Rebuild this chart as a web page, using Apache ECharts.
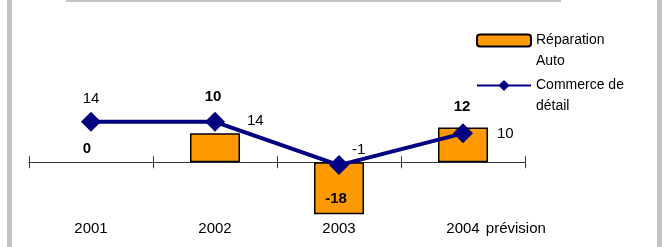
<!DOCTYPE html>
<html>
<head>
<meta charset="utf-8">
<script src="https://cdn.jsdelivr.net/npm/echarts@6/dist/echarts.min.js"></script>
<style>
  html, body { margin: 0; padding: 0; background: #fff; }
  #chart { width: 666px; height: 247px; }
</style>
</head>
<body>
<div id="chart"></div>
<script>
// données
var years = ['2001', '2002', '2003', '2004'];
var reparationAuto = [0, 10, -18, 12];
var commerceDetail = [14, 14, -1, 10];

var font = 'Liberation Sans, Arial, sans-serif';
var axisColor = '#333';
var yMin = -20, yMax = 25;

// étiquettes des barres (gras)
var barLabels = [
    {position: 'top', offset: [-4, -1]},
    {position: 'top', offset: [-2, -24]},
    {position: 'insideBottom', offset: [-3, -3]},
    {position: 'top', offset: [-1, -8]}
];
// étiquettes de la courbe
var lineLabels = [
    {position: 'top', distance: 5, offset: [0, 0]},
    {position: 'right', distance: 22, offset: [0, -1]},
    {position: 'right', distance: 3, offset: [0, -15]},
    {position: 'right', distance: 24, offset: [0, 1]}
];

var barData = reparationAuto.map(function (v, i) {
    return {value: v, label: barLabels[i], itemStyle: v === 0 ? {borderWidth: 0} : {}};
});
var lineData = commerceDetail.map(function (v, i) {
    return {value: v, label: lineLabels[i]};
});

var gridPos = {left: 29, right: 141, top: 90, bottom: 27, containLabel: false, outerBoundsMode: 'none'};

var chart = echarts.init(document.getElementById('chart'));
chart.setOption({
    animation: false,
    textStyle: {fontFamily: font},
    graphic: [
        {type: 'rect', shape: {x: 7, y: 0, width: 5, height: 247}, style: {fill: '#c4c4c4'}, silent: true},
        {type: 'rect', shape: {x: 657, y: 0, width: 5, height: 247}, style: {fill: '#c4c4c4'}, silent: true},
        {type: 'rect', shape: {x: 66, y: 0, width: 495, height: 2}, style: {fill: '#c4c4c4'}, silent: true}
    ],
    legend: [{
        data: ['Réparation Auto'],
        orient: 'vertical',
        left: 476, top: 9,
        padding: 0,
        itemWidth: 54, itemHeight: 12,
        formatter: function () { return ' \nRéparation\nAuto'; },
        textStyle: {fontFamily: font, fontSize: 14, color: '#000', lineHeight: 21}
    }, {
        data: ['Commerce de détail'],
        orient: 'vertical',
        left: 476, top: 54,
        padding: 0,
        itemWidth: 54, itemHeight: 14,
        formatter: function () { return ' \nCommerce de\ndétail'; },
        textStyle: {fontFamily: font, fontSize: 14, color: '#000', lineHeight: 21}
    }],
    grid: [gridPos, gridPos],
    xAxis: [{
        type: 'category',
        gridIndex: 0,
        data: years,
        position: 'bottom',
        axisLine: {onZero: true, lineStyle: {color: axisColor, width: 1}},
        axisTick: {show: true, length: 6, lineStyle: {color: axisColor}},
        axisLabel: {
            interval: 0,
            hideOverlap: false,
            margin: 1,
            fontSize: 15,
            color: '#000',
            formatter: function (v) {
                if (v === '2004') return '{s|}{y|2004}{p|  prévision}';
                return '{y|' + v + '}';
            },
            rich: {
                y: {fontSize: 15, fontFamily: font, color: '#000'},
                s: {width: 64},
                p: {fontSize: 15, fontFamily: font, color: '#000', width: 64}
            }
        }
    }, {
        // même axe, graduations vers le haut
        type: 'category',
        gridIndex: 1,
        data: years,
        position: 'bottom',
        axisLine: {onZero: true, lineStyle: {color: axisColor, width: 1}},
        axisTick: {show: true, inside: true, length: 6, lineStyle: {color: axisColor}},
        axisLabel: {show: false}
    }],
    yAxis: [
        {type: 'value', gridIndex: 0, min: yMin, max: yMax, show: false, splitLine: {show: false}},
        {type: 'value', gridIndex: 1, min: yMin, max: yMax, show: false, splitLine: {show: false}}
    ],
    series: [{
        name: 'Réparation Auto',
        type: 'bar',
        barWidth: 50,
        data: barData,
        itemStyle: {color: '#FF9900', borderColor: '#000', borderWidth: 1.5},
        label: {show: true, fontSize: 15, fontWeight: 'bold', color: '#000', fontFamily: font}
    }, {
        name: 'Commerce de détail',
        type: 'line',
        data: lineData,
        symbol: 'diamond',
        symbolSize: 20,
        lineStyle: {color: '#000080', width: 4},
        itemStyle: {color: '#000080'},
        label: {show: true, fontSize: 15, color: '#000', fontFamily: font}
    }]
});
</script>
</body>
</html>
